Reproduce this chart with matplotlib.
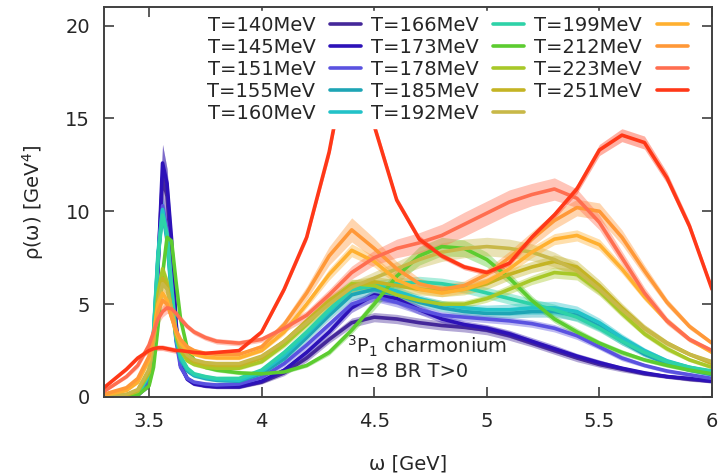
import numpy as np
import matplotlib.pyplot as plt
from matplotlib.ticker import MultipleLocator

plt.rcParams['font.family'] = ['DejaVu Sans']
plt.rcParams['mathtext.fontset'] = 'dejavusans'

# Frequency grid [GeV]
omega = [3.30, 3.40, 3.45, 3.50, 3.52, 3.54, 3.56, 3.58, 3.60, 3.62, 3.64, 3.67, 3.70,
         3.75, 3.80, 3.90, 4.00, 4.10, 4.20, 4.30, 4.40, 4.50, 4.60, 4.70, 4.80, 4.90,
         5.00, 5.10, 5.20, 5.30, 5.40, 5.50, 5.60, 5.70, 5.80, 5.90, 6.00]

temps = [140, 145, 151, 155, 160, 166, 173, 178, 185, 192, 199, 212, 223, 251]
colors = ['#45289a', '#2d12b8', '#5a52e0', '#1ea5b5', '#22c2c8', '#2ed2a8', '#5ccc30',
          '#a8c828', '#c4b424', '#c8b848', '#ffb030', '#ff9838', '#ff6e50', '#ff3818']

# Spectral functions rho(omega) [GeV^4] for each temperature
rho_140 = [0.0, 0.02, 0.1, 0.8, 2.6, 7.2, 11.8, 10.8, 7.6, 3.8, 1.7, 1.0, 0.75, 0.6, 0.55, 0.55,
           0.8, 1.3, 2.1, 3.1, 4.0, 4.3, 4.2, 4.0, 3.85, 3.75, 3.6, 3.3, 2.9, 2.5, 2.1, 1.75,
           1.5, 1.25, 1.1, 0.95, 0.85]
rho_145 = [0.0, 0.02, 0.08, 0.7, 2.5, 7.0, 12.6, 11.5, 8.5, 4.0, 1.7, 0.95, 0.7, 0.6, 0.55, 0.55,
           0.85, 1.45, 2.4, 3.5, 4.8, 5.5, 5.3, 4.7, 4.2, 3.9, 3.7, 3.4, 3.0, 2.6, 2.2, 1.85,
           1.55, 1.3, 1.1, 1.0, 0.85]
rho_151 = [0.0, 0.03, 0.12, 0.9, 3.0, 7.5, 10.3, 9.0, 6.0, 3.0, 1.6, 1.0, 0.8, 0.7, 0.65, 0.7,
           1.05, 1.8, 2.8, 3.9, 5.0, 5.4, 5.1, 4.7, 4.4, 4.3, 4.2, 4.1, 3.95, 3.7, 3.3, 2.7,
           2.1, 1.7, 1.4, 1.2, 1.0]
rho_155 = [0.0, 0.04, 0.15, 1.1, 3.4, 7.6, 10.0, 8.4, 5.4, 3.1, 2.0, 1.4, 1.15, 1.0, 0.9, 0.85,
           1.25, 2.05, 3.2, 4.4, 5.5, 5.8, 5.5, 5.1, 4.8, 4.6, 4.5, 4.5, 4.6, 4.6, 4.4, 3.8,
           3.0, 2.3, 1.8, 1.45, 1.2]
rho_160 = [0.0, 0.04, 0.15, 1.2, 3.5, 7.8, 10.1, 8.6, 5.6, 3.2, 2.1, 1.5, 1.2, 1.05, 0.95, 0.9,
           1.35, 2.25, 3.4, 4.6, 5.8, 6.0, 5.7, 5.3, 5.0, 4.8, 4.7, 4.7, 4.8, 4.8, 4.6, 4.0,
           3.2, 2.5, 1.95, 1.6, 1.35]
rho_166 = [0.0, 0.04, 0.15, 1.2, 3.4, 7.5, 9.8, 8.8, 6.0, 3.4, 2.2, 1.55, 1.25, 1.1, 1.0, 1.0,
           1.45, 2.4, 3.5, 4.7, 5.8, 6.0, 6.1, 6.2, 6.1, 5.9, 5.6, 5.3, 5.0, 4.7, 4.3, 3.7,
           3.0, 2.4, 1.9, 1.6, 1.4]
rho_173 = [0.0, 0.02, 0.1, 0.6, 1.6, 3.8, 6.6, 8.6, 8.4, 6.2, 4.2, 2.6, 2.0, 1.6, 1.45, 1.3,
           1.25, 1.35, 1.7, 2.4, 3.6, 5.0, 6.5, 7.6, 8.1, 8.0, 7.4, 6.4, 5.2, 4.2, 3.5, 2.9,
           2.4, 2.0, 1.7, 1.45, 1.25]
rho_178 = [0.02, 0.1, 0.3, 1.3, 3.0, 5.6, 6.9, 6.2, 4.6, 3.3, 2.5, 1.95, 1.75, 1.6, 1.55, 1.55,
           1.9, 2.8, 3.9, 5.1, 6.1, 6.0, 5.5, 5.2, 5.0, 5.0, 5.3, 5.8, 6.3, 6.7, 6.6, 5.7,
           4.5, 3.4, 2.6, 2.0, 1.6]
rho_185 = [0.03, 0.12, 0.35, 1.4, 3.0, 5.2, 6.4, 6.0, 4.7, 3.5, 2.7, 2.15, 1.9, 1.75, 1.7, 1.7,
           2.1, 3.0, 4.1, 5.2, 6.0, 6.2, 6.0, 5.8, 5.7, 5.8, 6.1, 6.6, 7.0, 7.3, 7.0, 6.0,
           4.8, 3.7, 2.9, 2.3, 1.8]
rho_192 = [0.03, 0.15, 0.4, 1.5, 3.0, 5.0, 6.1, 5.8, 4.7, 3.6, 2.8, 2.25, 2.0, 1.85, 1.8, 1.8,
           2.2, 3.0, 4.0, 5.0, 5.9, 6.4, 6.9, 7.4, 7.8, 8.0, 8.1, 8.0, 7.8, 7.4, 6.8, 5.8,
           4.7, 3.7, 2.9, 2.3, 1.9]
rho_199 = [0.1, 0.35, 0.8, 2.0, 3.4, 5.0, 5.6, 5.2, 4.3, 3.5, 2.9, 2.5, 2.3, 2.15, 2.1, 2.1,
           2.5, 3.5, 5.0, 6.6, 7.9, 7.3, 6.3, 5.8, 5.6, 5.8, 6.2, 6.9, 7.8, 8.5, 8.7, 8.2,
           6.9, 5.4, 4.1, 3.1, 2.4]
rho_212 = [0.15, 0.5, 1.0, 2.2, 3.3, 4.6, 5.2, 5.0, 4.3, 3.6, 3.1, 2.7, 2.5, 2.35, 2.3, 2.3,
           2.7, 3.9, 5.6, 7.6, 9.0, 8.0, 6.9, 6.1, 5.8, 6.0, 6.6, 7.5, 8.5, 9.5, 10.2, 10.0,
           8.6, 6.8, 5.1, 3.8, 2.9]
rho_223 = [0.3, 1.1, 1.7, 2.8, 3.5, 4.2, 4.6, 4.8, 4.75, 4.5, 4.2, 3.8, 3.5, 3.2, 3.0, 2.9,
           3.1, 3.7, 4.4, 5.5, 6.7, 7.5, 8.0, 8.3, 8.7, 9.3, 9.9, 10.5, 10.9, 11.2, 10.7, 9.4,
           7.5, 5.6, 4.1, 3.1, 2.5]
rho_251 = [0.5, 1.5, 2.1, 2.5, 2.6, 2.65, 2.65, 2.6, 2.55, 2.5, 2.5, 2.45, 2.4, 2.35, 2.4, 2.5,
           3.5, 5.8, 8.6, 13.2, 19.5, 14.6, 10.6, 8.5, 7.6, 7.0, 6.7, 7.2, 8.6, 9.8, 11.2, 13.3,
           14.1, 13.7, 11.8, 9.2, 5.8]

# Half widths of the error bands
err_140 = [0.0, 0.01, 0.05, 0.3, 0.8, 1.2, 1.8, 1.5, 1.0, 0.5, 0.2, 0.1, 0.1, 0.1, 0.1, 0.1,
           0.1, 0.15, 0.2, 0.2, 0.25, 0.25, 0.25, 0.25, 0.25, 0.25, 0.25, 0.25, 0.2, 0.2, 0.2,
           0.15, 0.15, 0.1, 0.1, 0.1, 0.1]
err_145 = [0.0, 0.01, 0.04, 0.2, 0.5, 0.8, 1.0, 0.8, 0.6, 0.3, 0.15, 0.1, 0.1, 0.1, 0.1, 0.1,
           0.1, 0.15, 0.2, 0.2, 0.25, 0.3, 0.3, 0.25, 0.2, 0.2, 0.2, 0.2, 0.2, 0.2, 0.15,
           0.15, 0.1, 0.1, 0.1, 0.1, 0.1]
err_151 = [0.0, 0.01, 0.04, 0.2, 0.4, 0.6, 0.7, 0.6, 0.4, 0.2, 0.1, 0.1, 0.1, 0.1, 0.1, 0.1,
           0.1, 0.15, 0.2, 0.2, 0.25, 0.25, 0.25, 0.25, 0.2, 0.2, 0.2, 0.2, 0.2, 0.2, 0.2,
           0.15, 0.15, 0.1, 0.1, 0.1, 0.1]
err_155 = [0.0, 0.01, 0.04, 0.2, 0.4, 0.5, 0.6, 0.5, 0.3, 0.2, 0.1, 0.1, 0.1, 0.1, 0.1, 0.1,
           0.1, 0.15, 0.2, 0.25, 0.3, 0.3, 0.25, 0.2, 0.2, 0.2, 0.2, 0.25, 0.3, 0.3, 0.3,
           0.25, 0.2, 0.15, 0.1, 0.1, 0.1]
err_160 = [0.0, 0.01, 0.04, 0.2, 0.4, 0.5, 0.6, 0.5, 0.3, 0.2, 0.1, 0.1, 0.1, 0.1, 0.1, 0.1,
           0.1, 0.15, 0.2, 0.25, 0.3, 0.3, 0.25, 0.2, 0.2, 0.2, 0.25, 0.3, 0.35, 0.35, 0.3,
           0.25, 0.2, 0.15, 0.1, 0.1, 0.1]
err_166 = [0.0, 0.01, 0.04, 0.2, 0.4, 0.5, 0.5, 0.5, 0.3, 0.2, 0.1, 0.1, 0.1, 0.1, 0.1, 0.1,
           0.1, 0.15, 0.2, 0.25, 0.3, 0.3, 0.3, 0.3, 0.3, 0.3, 0.3, 0.3, 0.3, 0.3, 0.25,
           0.2, 0.2, 0.15, 0.1, 0.1, 0.1]
err_173 = [0.0, 0.01, 0.03, 0.1, 0.2, 0.3, 0.4, 0.4, 0.4, 0.3, 0.2, 0.15, 0.1, 0.1, 0.1, 0.1,
           0.1, 0.1, 0.1, 0.15, 0.2, 0.3, 0.4, 0.5, 0.5, 0.45, 0.4, 0.3, 0.25, 0.2, 0.2,
           0.15, 0.15, 0.1, 0.1, 0.1, 0.1]
err_178 = [0.0, 0.02, 0.05, 0.15, 0.25, 0.3, 0.35, 0.3, 0.25, 0.2, 0.15, 0.1, 0.1, 0.1, 0.1, 0.1,
           0.1, 0.15, 0.2, 0.25, 0.25, 0.25, 0.2, 0.2, 0.2, 0.2, 0.2, 0.25, 0.25, 0.3, 0.3,
           0.25, 0.2, 0.15, 0.15, 0.1, 0.1]
err_185 = [0.0, 0.02, 0.05, 0.15, 0.25, 0.3, 0.35, 0.3, 0.25, 0.2, 0.15, 0.1, 0.1, 0.1, 0.1, 0.1,
           0.1, 0.15, 0.2, 0.25, 0.3, 0.3, 0.3, 0.3, 0.3, 0.3, 0.3, 0.3, 0.3, 0.35, 0.35,
           0.3, 0.25, 0.2, 0.15, 0.1, 0.1]
err_192 = [0.0, 0.02, 0.05, 0.15, 0.25, 0.3, 0.35, 0.3, 0.25, 0.2, 0.15, 0.1, 0.1, 0.1, 0.1, 0.1,
           0.1, 0.15, 0.2, 0.25, 0.3, 0.35, 0.4, 0.45, 0.5, 0.5, 0.5, 0.5, 0.45, 0.4, 0.35,
           0.3, 0.25, 0.2, 0.15, 0.1, 0.1]
err_199 = [0.02, 0.05, 0.1, 0.2, 0.25, 0.3, 0.35, 0.3, 0.25, 0.2, 0.15, 0.1, 0.1, 0.1, 0.1, 0.1,
           0.1, 0.15, 0.2, 0.3, 0.35, 0.3, 0.25, 0.2, 0.2, 0.2, 0.2, 0.25, 0.3, 0.3, 0.3,
           0.3, 0.25, 0.2, 0.15, 0.1, 0.1]
err_212 = [0.03, 0.05, 0.1, 0.2, 0.25, 0.3, 0.35, 0.3, 0.25, 0.2, 0.15, 0.1, 0.1, 0.1, 0.1, 0.1,
           0.15, 0.25, 0.35, 0.5, 0.65, 0.55, 0.4, 0.3, 0.25, 0.25, 0.3, 0.35, 0.4, 0.45, 0.45,
           0.45, 0.4, 0.3, 0.2, 0.15, 0.1]
err_223 = [0.05, 0.1, 0.15, 0.2, 0.25, 0.3, 0.3, 0.3, 0.25, 0.2, 0.2, 0.15, 0.15, 0.15, 0.15, 0.15,
           0.15, 0.2, 0.25, 0.3, 0.35, 0.4, 0.5, 0.55, 0.6, 0.65, 0.65, 0.65, 0.6, 0.6, 0.5,
           0.4, 0.35, 0.3, 0.2, 0.15, 0.1]
err_251 = [0.05, 0.1, 0.1, 0.15, 0.15, 0.15, 0.15, 0.15, 0.15, 0.15, 0.1, 0.1, 0.1, 0.1, 0.1, 0.1,
           0.1, 0.15, 0.2, 0.3, 0.4, 0.3, 0.2, 0.2, 0.15, 0.15, 0.15, 0.15, 0.2, 0.2, 0.25,
           0.3, 0.35, 0.35, 0.3, 0.25, 0.2]

rho = [rho_140, rho_145, rho_151, rho_155, rho_160, rho_166, rho_173,
       rho_178, rho_185, rho_192, rho_199, rho_212, rho_223, rho_251]
err = [err_140, err_145, err_151, err_155, err_160, err_166, err_173,
       err_178, err_185, err_192, err_199, err_212, err_223, err_251]

fig = plt.figure(figsize=(7.22, 4.75), dpi=100)
ax = fig.add_axes([104 / 722, 78 / 475, 608 / 722, 390 / 475])

w = np.array(omega)
for T, c, r, e in zip(temps, colors, rho, err):
    r = np.array(r)
    e = np.array(e)
    ax.fill_between(w, r - e, r + e, color=c, alpha=0.4, lw=0)
    ax.plot(w, r, color=c, lw=2.6, label='T=%dMeV' % T,
            solid_capstyle='round', solid_joinstyle='round')

ax.set_xlim(3.3, 6.0)
ax.set_ylim(0, 21)
ax.yaxis.set_major_locator(MultipleLocator(5))
ax.set_xticks([3.5, 4, 4.5, 5, 5.5, 6])
ax.set_xticklabels(['3.5', '4', '4.5', '5', '5.5', '6'])

textc = '#262626'
for s in ax.spines.values():
    s.set_color('#404040')
    s.set_linewidth(1.4)
    s.set_zorder(12)
ax.tick_params(direction='in', length=7, width=1.2, color='#404040', top=True, right=True,
               labelsize=14, labelcolor=textc)
ax.tick_params(axis='y', pad=10)
ax.tick_params(axis='x', pad=11)

ax.set_xlabel('ω [GeV]', fontsize=14, color=textc, labelpad=17)
ax.set_ylabel('ρ(ω) [GeV$^4$]', fontsize=14, color=textc, labelpad=14)

ax.text(4.38, 2.75, '$^3$P$_1$ charmonium', fontsize=14, color=textc, va='center')
ax.text(4.38, 1.35, 'n=8 BR T>0', fontsize=14, color=textc, va='center')

# opaque key in the upper part of the frame
leg = ax.legend(ncol=3, markerfirst=False, loc='upper right', bbox_to_anchor=(0.968, 0.99),
                borderaxespad=0, borderpad=0.25, fontsize=14, handlelength=1.6,
                handletextpad=0.75, columnspacing=0.5, labelspacing=0.16,
                frameon=True, fancybox=False, framealpha=1.0,
                facecolor='white', edgecolor='white')
leg.set_zorder(10)
for t in leg.get_texts():
    t.set_color(textc)

fig.savefig('out.png', dpi=100)
